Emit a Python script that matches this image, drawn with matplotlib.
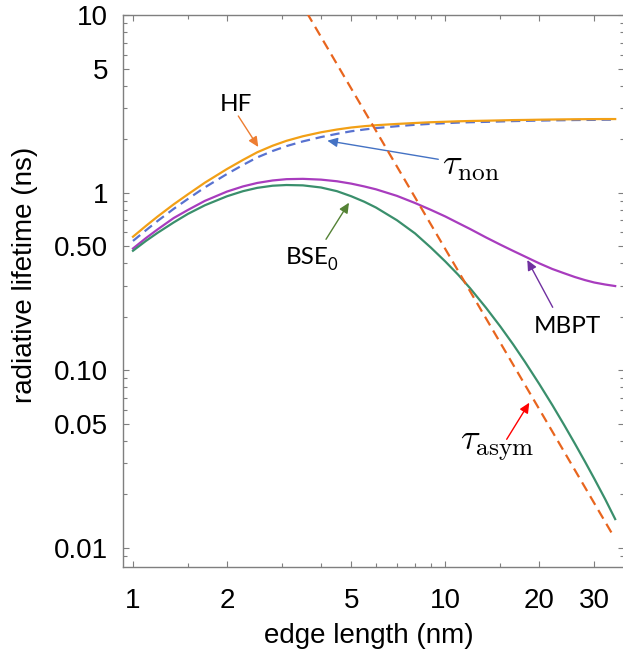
import matplotlib
matplotlib.use("Agg")
import matplotlib.pyplot as plt
from matplotlib.ticker import FixedLocator, FixedFormatter, NullFormatter
from matplotlib.transforms import blended_transform_factory

# ---------------- data ----------------
edge = [1, 1.1, 1.2, 1.35, 1.5, 1.7, 2, 2.25, 2.5, 2.8, 3.1, 3.5, 4, 4.5, 5, 5.5, 6, 7,
        8, 9, 10, 11, 12, 13.5, 15, 16.5, 18, 20, 22, 24, 26, 28, 30, 32.5, 35]
tau_hf = [0.565, 0.65, 0.735, 0.86, 0.98, 1.14, 1.36, 1.53, 1.69, 1.84, 1.96, 2.08,
          2.19, 2.27, 2.33, 2.37, 2.40, 2.44, 2.47, 2.495, 2.51, 2.525, 2.535, 2.545,
          2.555, 2.565, 2.57, 2.578, 2.584, 2.589, 2.593, 2.596, 2.598, 2.60, 2.60]
tau_non = [0.535, 0.614, 0.694, 0.811, 0.923, 1.072, 1.275, 1.433, 1.581, 1.718, 1.830,
           1.946, 2.058, 2.146, 2.219, 2.270, 2.312, 2.369, 2.414, 2.444, 2.464, 2.483,
           2.495, 2.507, 2.520, 2.532, 2.540, 2.548, 2.556, 2.561, 2.567, 2.570, 2.572,
           2.577, 2.577]
tau_mbpt = [0.485, 0.555, 0.622, 0.72, 0.80, 0.90, 1.015, 1.085, 1.135, 1.172, 1.192,
            1.197, 1.185, 1.16, 1.125, 1.085, 1.045, 0.96, 0.875, 0.80, 0.735, 0.675,
            0.625, 0.56, 0.51, 0.47, 0.437, 0.40, 0.372, 0.352, 0.335, 0.322, 0.312,
            0.304, 0.298]
tau_bse0 = [0.471, 0.535, 0.595, 0.68, 0.76, 0.85, 0.955, 1.02, 1.065, 1.095, 1.105,
            1.10, 1.07, 1.02, 0.955, 0.89, 0.825, 0.70, 0.59, 0.49, 0.41, 0.345, 0.29,
            0.225, 0.1765, 0.1397, 0.1114, 0.0836, 0.0638, 0.0493, 0.0386, 0.0306,
            0.0245, 0.0188, 0.0145]
edge_asym = [3.4, 5, 10, 20, 34.5]
tau_asym = [12.3, 3.86, 0.482, 0.0603, 0.0117]

x_major = [1, 2, 5, 10, 20, 30]
x_major_labels = ["1", "2", "5", "10", "20", "30"]
x_minor = [1.5, 3, 4, 6, 7, 8, 9, 15]
y_major = [0.01, 0.05, 0.1, 0.5, 1, 5, 10]
y_major_labels = ["0.01", "0.05", "0.10", "0.50", "1", "5", "10"]
y_minor = [0.009, 0.02, 0.03, 0.04, 0.06, 0.07, 0.08, 0.09,
           0.2, 0.3, 0.4, 0.6, 0.7, 0.8, 0.9, 2, 3, 4, 6, 7, 8, 9]

# ---------------- figure ----------------
W, H = 623, 656
fig = plt.figure(figsize=(W / 100, H / 100), dpi=100)

def fp(px, py):
    return (px / W, 1 - py / H)

left, right, top, bottom = 122.7, 624.0, 15.2, 566.7
ax = fig.add_axes([left / W, 1 - bottom / H, (right - left) / W, (bottom - top) / H])
ax.set_xscale("log")
ax.set_yscale("log")
ax.set_xlim(0.927, 37.35)
ax.set_ylim(0.00782, 10)

lw = 1.6
ax.plot(edge, tau_non, color="#5872D0", lw=lw, dashes=(4.2, 2.6), zorder=3)
ax.plot(edge, tau_hf, color="#F2A016", lw=lw, zorder=4)
ax.plot(edge, tau_mbpt, color="#A83CBE", lw=lw, zorder=4)
ax.plot(edge, tau_bse0, color="#3A8F6C", lw=lw, zorder=4)
ax.plot(edge_asym, tau_asym, color="#E8651E", lw=lw, dashes=(4.5, 2.7), zorder=5)

gray = "#7f7f7f"
for s in ax.spines.values():
    s.set_color(gray)
    s.set_linewidth(1.0)

ax.xaxis.set_major_locator(FixedLocator(x_major))
ax.xaxis.set_major_formatter(NullFormatter())
ax.xaxis.set_minor_locator(FixedLocator(x_minor))
ax.xaxis.set_minor_formatter(NullFormatter())
ax.yaxis.set_major_locator(FixedLocator(y_major))
ax.yaxis.set_major_formatter(FixedFormatter(y_major_labels))
ax.yaxis.set_minor_locator(FixedLocator(y_minor))
ax.yaxis.set_minor_formatter(NullFormatter())

ax.tick_params(which="both", direction="in", top=True, right=True, color=gray, width=0.8)
ax.tick_params(which="major", length=4.5)
ax.tick_params(which="minor", length=3.0)
ax.tick_params(axis="y", which="major", pad=10.5, labelsize=20)
for lab in ax.get_yticklabels():
    lab.set_fontfamily("Liberation Sans")

# x tick labels placed below the frame
xtr = blended_transform_factory(ax.transData, fig.transFigure)
for xv, xl in zip(x_major, x_major_labels):
    ax.text(xv, 1 - 608 / H, xl, transform=xtr, ha="center", va="baseline",
            fontsize=20, family="Liberation Sans", clip_on=False)

fig.text(*fp(368.5, 636), "edge length (nm)", ha="center", va="center",
         fontsize=20, family="Liberation Sans")
fig.text(*fp(25, 275), "radiative lifetime (ns)", ha="center", va="center",
         rotation=90, fontsize=20, family="Liberation Sans")

# ---------------- labels ----------------
lab_font = "Lato"
fig.text(*fp(235.5, 110.7), "HF", ha="center", va="baseline", fontsize=17.5, family=lab_font)
fig.text(*fp(307, 264), "BSE", ha="center", va="baseline", fontsize=17.5, family=lab_font)
fig.text(*fp(328, 270), "0", ha="left", va="baseline", fontsize=12, family=lab_font)
fig.text(*fp(567.5, 333.3), "MBPT", ha="center", va="baseline", fontsize=17.5, family=lab_font)
fig.text(*fp(442, 175), r"$\tau_{\mathrm{non}}$", ha="left", va="baseline",
         fontsize=26, math_fontfamily="cm")
fig.text(*fp(460, 450), r"$\tau_{\mathrm{asym}}$", ha="left", va="baseline",
         fontsize=26, math_fontfamily="cm")

arrows = [
    ((238.3, 116), (258.3, 147), "#ED7D31"),
    ((438.3, 159.3), (327.3, 140.7), "#4472C4"),
    ((326, 239.3), (349, 202.7), "#548235"),
    ((552.7, 307.3), (527.3, 260), "#7030A0"),
    ((506.7, 439.3), (529.3, 402.7), "#FF0000"),
]
for tail, head, c in arrows:
    ax.annotate("", xy=fp(*head), xytext=fp(*tail), xycoords="figure fraction",
                textcoords="figure fraction",
                arrowprops=dict(arrowstyle="-|>,head_length=0.6,head_width=0.28",
                                color=c, lw=1.0, shrinkA=0, shrinkB=0),
                annotation_clip=False)

fig.savefig("out.png", dpi=100)
